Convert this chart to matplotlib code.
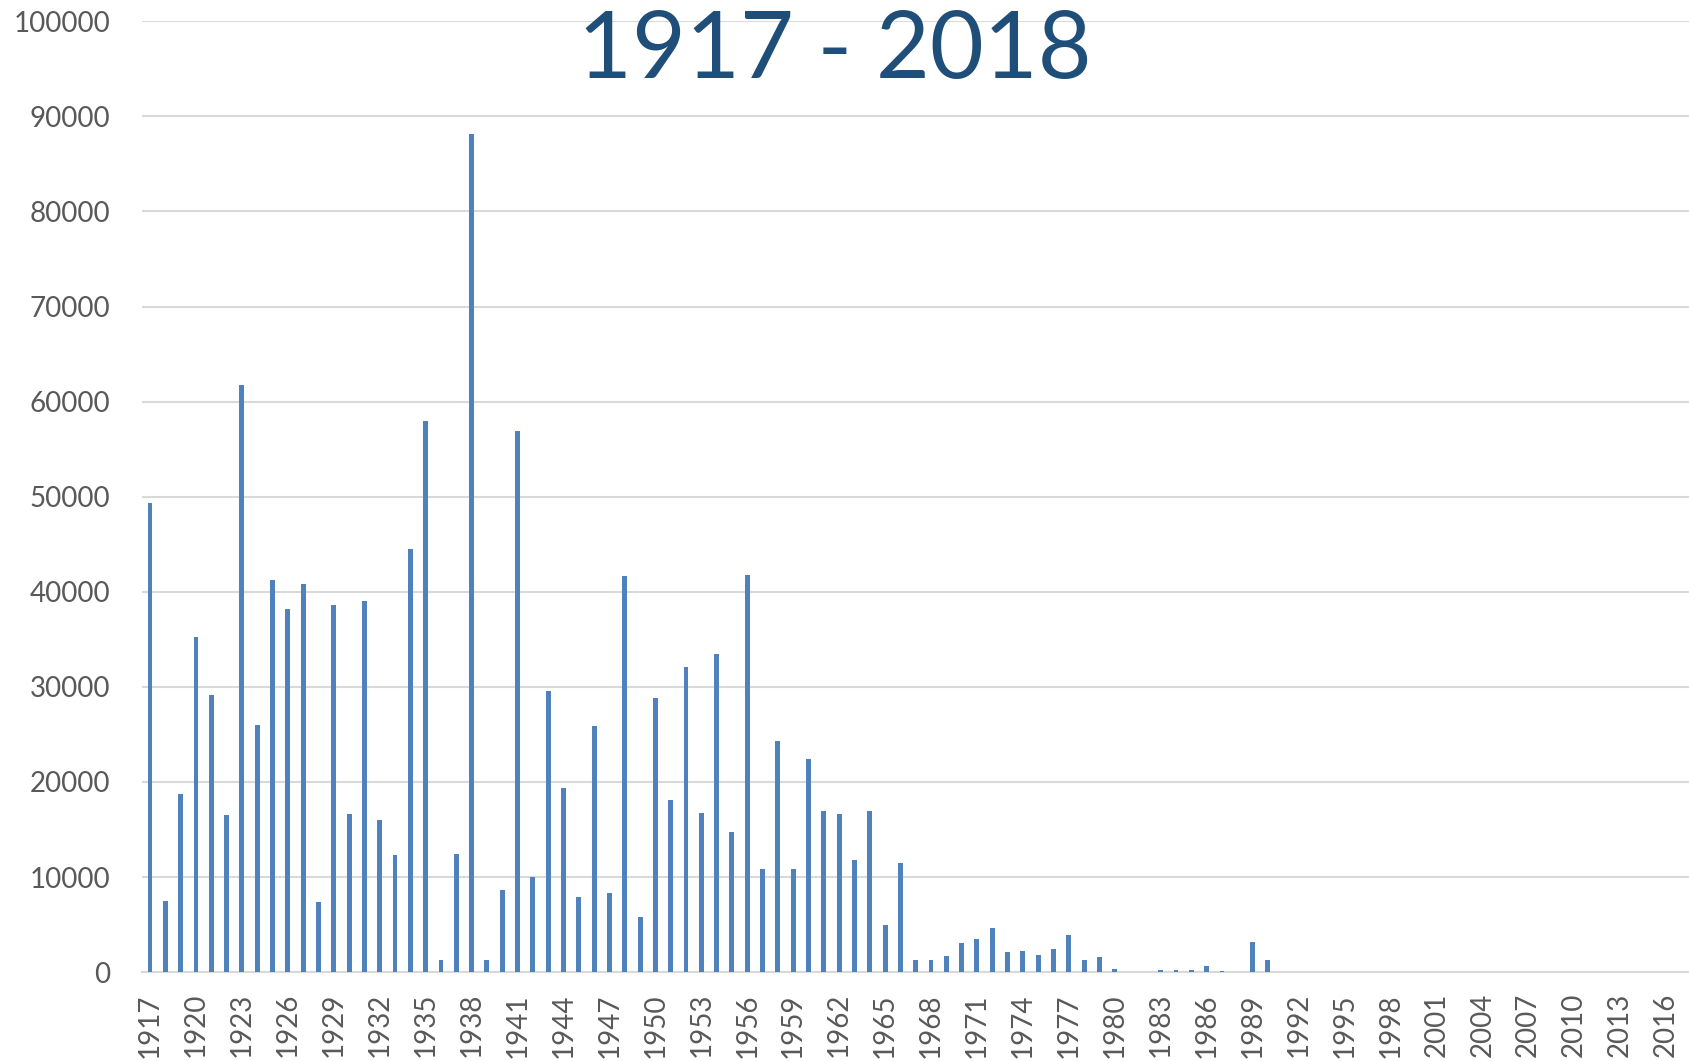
import matplotlib
matplotlib.use("Agg")
import matplotlib.pyplot as plt
import numpy as np

plt.rcParams['font.family'] = ['Lato', 'DejaVu Sans']

years = list(range(1917, 2018))
values = [
    49300, 7500, 18700, 35300, 29200, 16500, 61700, 26000, 41200, 38200,
    40800, 7400, 38600, 16600, 39000, 16000, 12300, 44500, 58000, 1250,
    12400, 88100, 1270, 8600, 56900, 10050, 29600, 19400, 7900, 25900,
    8300, 41700, 5800, 28800, 18100, 32100, 16700, 33500, 14700, 41800,
    10800, 24300, 10900, 22400, 16900, 16600, 11800, 16900, 5000, 11500,
    1300, 1260, 1680, 3020, 3440, 4630, 2100, 2210, 1790, 2390,
    3960, 1330, 1610, 320, 0, 0, 180, 200, 280, 670,
    170, 70, 3190, 1330, 0, 0, 0, 30, 0, 0,
    0, 0, 0, 0, 0, 0, 0, 0, 0, 0,
    0, 0, 0, 0, 0, 0, 0, 0, 0, 0,
    0,
]
yticks = list(range(0, 100001, 10000))
title = "1917 - 2018"

fig = plt.figure(figsize=(16.89, 10.61), dpi=100)
ax = fig.add_axes([0.0843, 0.0837, 0.9157, 0.8963])

x = np.arange(len(years))
ax.bar(x, values, width=0.32, color="#4F81BD", zorder=3)

ax.set_xlim(-0.5, len(years) - 0.5)
ax.set_ylim(0, 100000)
ax.set_yticks(yticks)
ax.set_yticklabels([str(v) for v in yticks], fontsize=20, color="#595959")
ax.set_xticks(x[::3])
ax.set_xticklabels([str(y) for y in years[::3]], rotation=90, fontsize=20,
                   color="#595959")
ax.tick_params(axis="both", length=0)
ax.tick_params(axis="y", pad=23)
ax.tick_params(axis="x", pad=15)

ax.grid(axis="y", color="#D9D9D9", linewidth=1.5, zorder=0)
for s in ["top", "right", "left"]:
    ax.spines[s].set_visible(False)
ax.spines["bottom"].set_color("#D9D9D9")
ax.spines["bottom"].set_linewidth(1.5)

fig.text(0.4945, 0.951, title, ha="center", va="center", fontsize=67,
         color="#1F4E79")

fig.savefig("out.png", dpi=100)
